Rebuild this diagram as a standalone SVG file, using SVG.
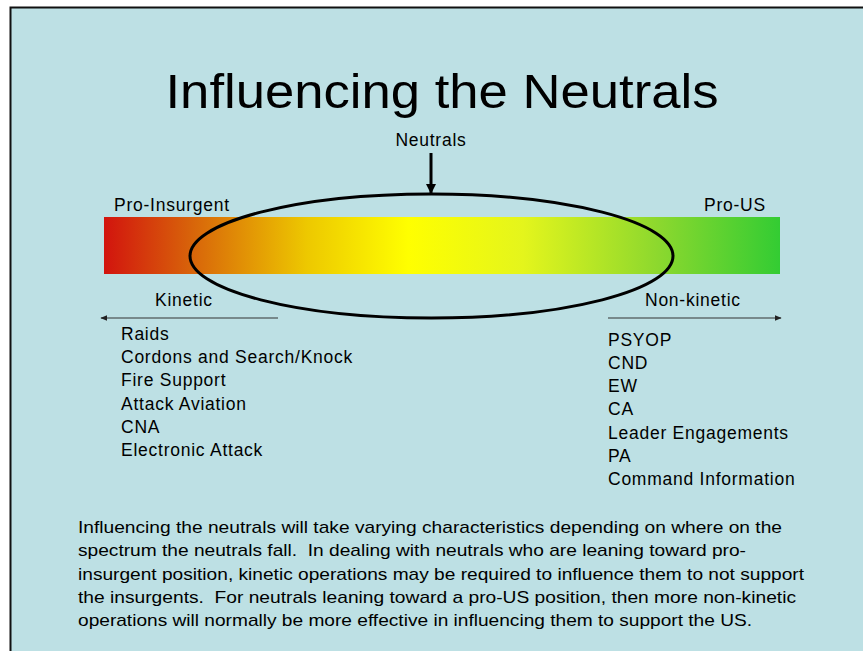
<svg xmlns="http://www.w3.org/2000/svg" width="863" height="651" viewBox="0 0 863 651">
<style>
text{font-family:"Liberation Sans",Arial,sans-serif;fill:#000}
.lbl{font-size:17.5px;letter-spacing:0.75px}
.para{font-size:17px}
</style>
<defs>
<linearGradient id="spec" x1="0" y1="0" x2="1" y2="0">
<stop offset="0" stop-color="#D2140E"/>
<stop offset="0.13" stop-color="#D8640A"/>
<stop offset="0.3" stop-color="#EDC800"/>
<stop offset="0.45" stop-color="#FFFF00"/>
<stop offset="0.62" stop-color="#E4F51C"/>
<stop offset="0.82" stop-color="#8CD82E"/>
<stop offset="1" stop-color="#33CC33"/>
</linearGradient>
<marker id="ah" viewBox="0 0 10 10" refX="9" refY="5" markerWidth="7" markerHeight="7" markerUnits="userSpaceOnUse" orient="auto"><path d="M0,1 L10,5 L0,9 z" fill="#222"/></marker>
<marker id="ahb" viewBox="0 0 10 10" refX="9" refY="5" markerWidth="10" markerHeight="10" markerUnits="userSpaceOnUse" orient="auto"><path d="M0,0 L10,5 L0,10 z" fill="#000"/></marker>
</defs>
<rect x="0" y="0" width="863" height="651" fill="#fff"/>
<rect x="10" y="7" width="853" height="644" fill="#BDE0E4"/>
<path d="M10.5,651 V7.5 H863" fill="none" stroke="#111" stroke-width="2"/>
<text x="442" y="108" font-size="49" text-anchor="middle" textLength="553" lengthAdjust="spacingAndGlyphs">Influencing the Neutrals</text>
<g id="spectrum">
<rect x="104" y="217" width="676" height="57" fill="url(#spec)"/>
</g>
<g id="neutrals">
<ellipse cx="431.5" cy="256" rx="241.5" ry="62" fill="none" stroke="#000" stroke-width="3"/>
<text class="lbl" x="431" y="146" text-anchor="middle">Neutrals</text>
</g>
<g id="pro-insurgent"><text class="lbl" x="114" y="211">Pro-Insurgent</text></g>
<g id="pro-us"><text class="lbl" x="704" y="211">Pro-US</text></g>
<g id="connectors">
<line x1="431" y1="153" x2="431" y2="193" stroke="#000" stroke-width="3" marker-end="url(#ahb)"/>
<line x1="278" y1="318" x2="101" y2="318" stroke="#333" stroke-width="1.2" marker-end="url(#ah)"/>
<line x1="608" y1="318" x2="781" y2="318" stroke="#333" stroke-width="1.2" marker-end="url(#ah)"/>
</g>
<g id="kinetic">
<text class="lbl" x="155" y="306">Kinetic</text>
<text class="lbl" x="121" y="340">Raids</text>
<text class="lbl" x="121" y="363">Cordons and Search/Knock</text>
<text class="lbl" x="121" y="386">Fire Support</text>
<text class="lbl" x="121" y="410">Attack Aviation</text>
<text class="lbl" x="121" y="433">CNA</text>
<text class="lbl" x="121" y="456">Electronic Attack</text>
</g>
<g id="non-kinetic">
<text class="lbl" x="645" y="306">Non-kinetic</text>
<text class="lbl" x="608" y="346">PSYOP</text>
<text class="lbl" x="608" y="369">CND</text>
<text class="lbl" x="608" y="392">EW</text>
<text class="lbl" x="608" y="415">CA</text>
<text class="lbl" x="608" y="439">Leader Engagements</text>
<text class="lbl" x="608" y="462">PA</text>
<text class="lbl" x="608" y="485">Command Information</text>
</g>
<g id="description">
<text class="para" x="78" y="533" textLength="704" lengthAdjust="spacingAndGlyphs">Influencing the neutrals will take varying characteristics depending on where on the</text>
<text class="para" x="78" y="556" textLength="668" lengthAdjust="spacingAndGlyphs" xml:space="preserve">spectrum the neutrals fall.  In dealing with neutrals who are leaning toward pro-</text>
<text class="para" x="78" y="580" textLength="726" lengthAdjust="spacingAndGlyphs">insurgent position, kinetic operations may be required to influence them to not support</text>
<text class="para" x="78" y="603" textLength="718" lengthAdjust="spacingAndGlyphs" xml:space="preserve">the insurgents.  For neutrals leaning toward a pro-US position, then more non-kinetic</text>
<text class="para" x="78" y="626" textLength="674" lengthAdjust="spacingAndGlyphs">operations will normally be more effective in influencing them to support the US.</text>
</g>
</svg>
